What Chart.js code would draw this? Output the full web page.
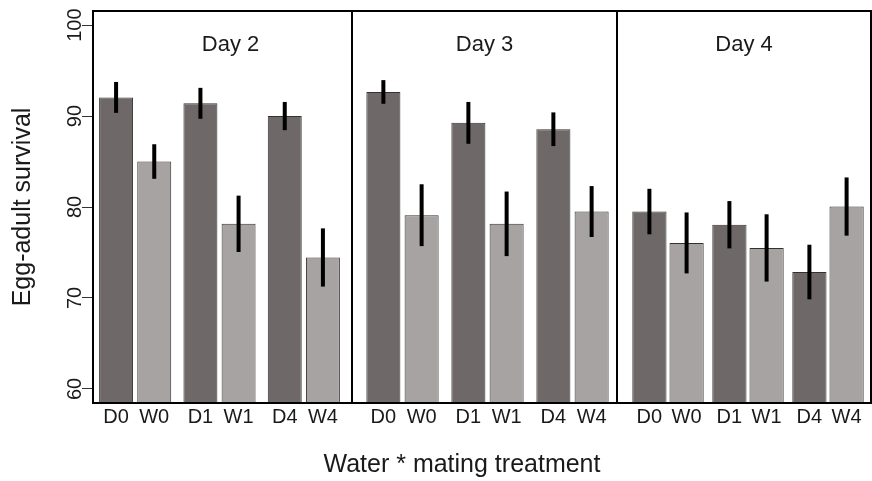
<!DOCTYPE html>
<html lang="en">
<head>
<meta charset="UTF-8"/>
<title>Egg-adult survival</title>
<script src="https://cdn.jsdelivr.net/npm/chart.js"></script>
<style>
    html, body {
        margin: 0;
        padding: 0;
        background: #fff;
    }
    .figure {
        position: relative;
        width: 872px;
        height: 481px;
        font-family: 'Liberation Sans', Arial, sans-serif;
        color: #1a1a1a;
        overflow: hidden;
    }
    .figure canvas { position: absolute; top: 0; }
    #panel0 { left: 0; }
    #panel1 { left: 352px; }
    #panel2 { left: 617px; }
    .x-title {
        position: absolute;
        left: 262px;
        top: 451px;
        width: 400px;
        text-align: center;
        font-size: 25px;
        line-height: 25px;
    }
</style>
</head>
<body>
<div class="figure">
    <canvas id="panel0" width="352" height="481"></canvas>
    <canvas id="panel1" width="265" height="481"></canvas>
    <canvas id="panel2" width="255" height="481"></canvas>
    <div class="x-title">Water * mating treatment</div>
</div>

<script>
    const days = ['Day 2', 'Day 3', 'Day 4'];
    const treatments = ['D0', 'W0', 'D1', 'W1', 'D4', 'W4'];
    const yTicks = [60, 70, 80, 90, 100];

    // means and error half-widths, in treatment order
    const day2Mean = [92.05, 85.0, 91.4, 78.15, 90.0, 74.45];
    const day2Err  = [1.7, 1.9, 1.7, 3.1, 1.55, 3.2];
    const day3Mean = [92.65, 79.1, 89.25, 78.15, 88.55, 79.5];
    const day3Err  = [1.3, 3.4, 2.3, 3.55, 1.85, 2.8];
    const day4Mean = [79.5, 76.05, 78.05, 75.5, 72.85, 80.05];
    const day4Err  = [2.5, 3.35, 2.6, 3.7, 3.0, 3.2];

    const means = [day2Mean, day3Mean, day4Mean];
    const errs = [day2Err, day3Err, day4Err];

    const FONT = "'Liberation Sans', Arial, sans-serif";
    const TEXT = '#1a1a1a';
    const DRY = '#6e6868';
    const WET = '#a8a3a3';

    const even = (v, i) => i % 2 === 0;
    const odd = (v, i) => i % 2 === 1;

    // per-panel tweaks: space between bars and frame, bar spacing, strip label nudge
    const panelLook = [
        { padL: 0, padR: 6, catPct: 0.905, barPct: 0.89, shift: 8 },
        { padL: 8, padR: 2, catPct: 0.9, barPct: 0.89, shift: 0 },
        { padL: 11, padR: 4, catPct: 0.93, barPct: 0.92, shift: 0 }
    ];

    const panelDecor = {
        id: 'panelDecor',
        afterDatasetsDraw(chart) {
            const ctx = chart.ctx;
            const y = chart.scales.y;
            ctx.save();
            ctx.strokeStyle = '#000';
            ctx.lineWidth = 4;
            chart.data.datasets.forEach((ds, i) => {
                chart.getDatasetMeta(i).data.forEach((bar, j) => {
                    ctx.beginPath();
                    ctx.moveTo(bar.x, y.getPixelForValue(ds.data[j] + ds.errors[j]));
                    ctx.lineTo(bar.x, y.getPixelForValue(ds.data[j] - ds.errors[j]));
                    ctx.stroke();
                });
            });
            ctx.restore();
        },
        afterDraw(chart, args, opts) {
            const ctx = chart.ctx;
            const a = chart.chartArea;
            const left = a.left - opts.padL;
            const right = a.right + opts.padR - (opts.last ? 1 : 0);
            ctx.save();
            // panel frame
            ctx.strokeStyle = '#000';
            ctx.lineWidth = 2;
            ctx.strokeRect(left, a.top, right - left, a.bottom - a.top);
            // strip label
            ctx.fillStyle = TEXT;
            ctx.textAlign = 'center';
            ctx.textBaseline = 'alphabetic';
            ctx.font = '22px ' + FONT;
            ctx.fillText(opts.title, (left + right) / 2 + opts.shift, a.top + 40);
            // treatment labels under each bar
            ctx.font = '20px ' + FONT;
            chart.data.datasets.forEach((ds, i) => {
                chart.getDatasetMeta(i).data.forEach((bar, j) => {
                    ctx.fillText(ds.tickLabels[j], bar.x, a.bottom + 19.5);
                });
            });
            ctx.restore();
        }
    };

    function makePanel(d) {
        const first = d === 0;
        const last = d === days.length - 1;
        const look = panelLook[d];
        const ctx = document.getElementById('panel' + d).getContext('2d');
        return new Chart(ctx, {
            type: 'bar',
            data: {
                labels: ['0', '1', '4'],
                datasets: [
                    {
                        label: 'Dry',
                        data: means[d].filter(even),
                        errors: errs[d].filter(even),
                        tickLabels: treatments.filter(even),
                        backgroundColor: DRY
                    },
                    {
                        label: 'Water',
                        data: means[d].filter(odd),
                        errors: errs[d].filter(odd),
                        tickLabels: treatments.filter(odd),
                        backgroundColor: WET
                    }
                ].map(ds => Object.assign(ds, {
                    borderColor: '#353131',
                    borderWidth: 1,
                    borderSkipped: false,
                    categoryPercentage: look.catPct,
                    barPercentage: look.barPct
                }))
            },
            options: {
                responsive: false,
                animation: false,
                layout: { padding: { top: 11, right: look.padR, left: look.padL, bottom: 0 } },
                plugins: {
                    legend: { display: false },
                    tooltip: { enabled: false },
                    panelDecor: { title: days[d], shift: look.shift, padL: look.padL, padR: look.padR, last: last }
                },
                scales: {
                    x: {
                        grid: { display: false },
                        border: { display: false },
                        ticks: { display: false },
                        afterFit: s => { s.height = 78; }
                    },
                    y: {
                        display: first,
                        min: 58.45,
                        max: 101.55,
                        afterBuildTicks: s => { s.ticks = yTicks.map(v => ({ value: v })); },
                        // only the first panel carries the y axis
                        afterFit: s => { s.width = first ? 93 : 0; },
                        grid: { drawOnChartArea: false, drawTicks: true, tickLength: 11, color: '#333' },
                        border: { display: false },
                        ticks: {
                            minRotation: 90,
                            maxRotation: 90,
                            crossAlign: 'center',
                            padding: -10,
                            color: TEXT,
                            font: { size: 20, family: FONT }
                        },
                        title: {
                            display: true,
                            text: 'Egg-adult survival',
                            color: TEXT,
                            font: { size: 25, family: FONT },
                            padding: { top: 8, bottom: 0 }
                        }
                    }
                }
            },
            plugins: [panelDecor]
        });
    }

    days.forEach((day, d) => makePanel(d));
</script>
</body>
</html>
